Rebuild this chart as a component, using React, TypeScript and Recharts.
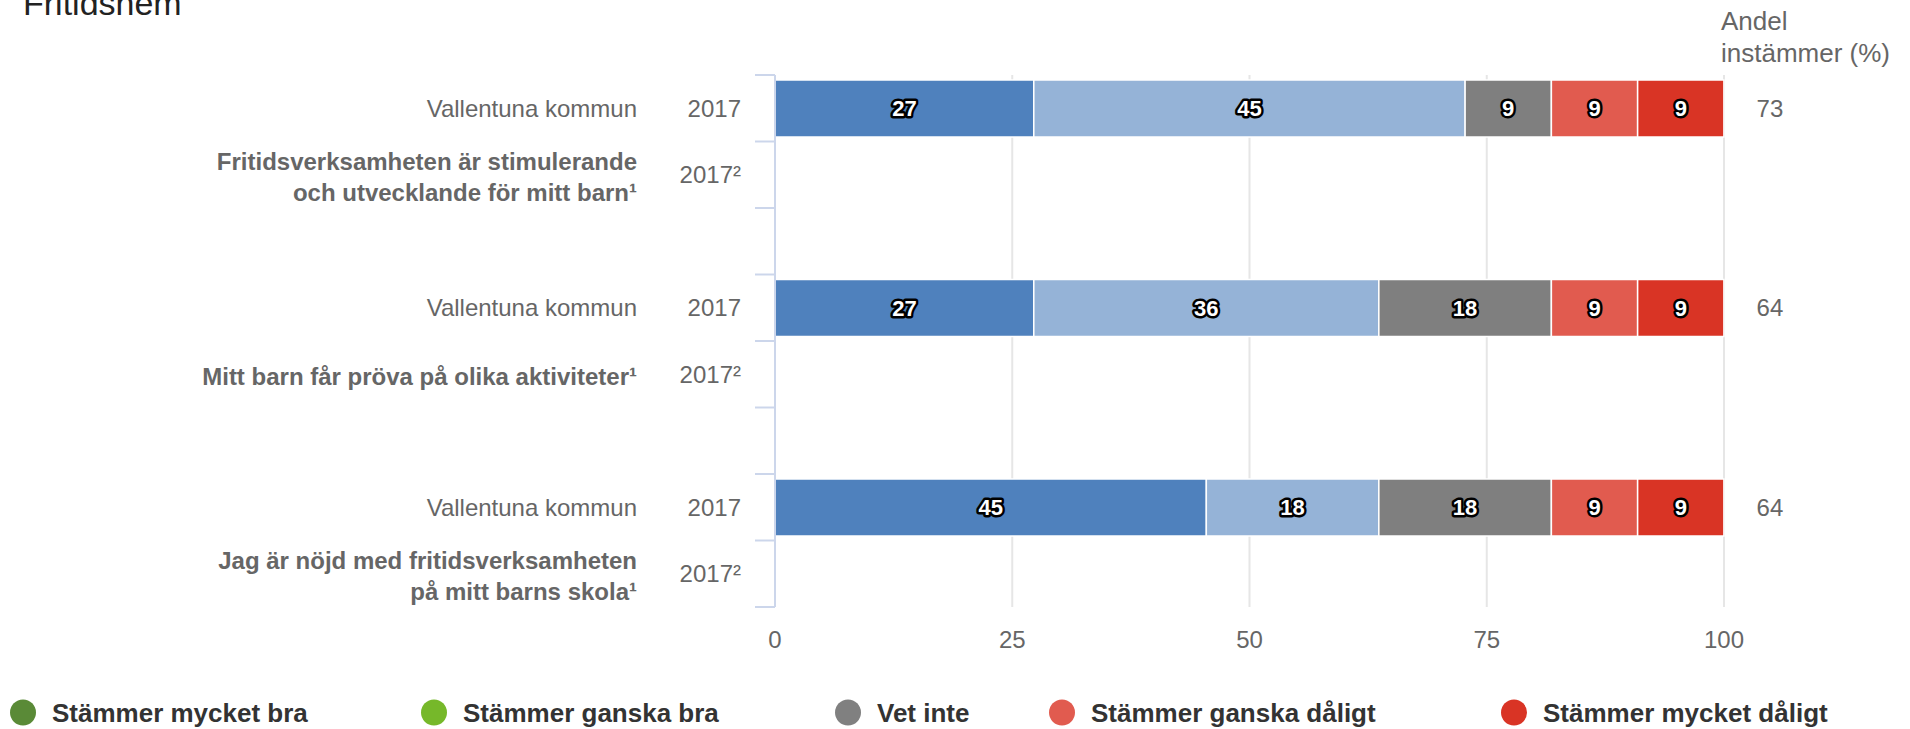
import React from 'react';
import { BarChart, Bar, XAxis, YAxis, CartesianGrid, LabelList } from 'recharts';

// --- data ---
const TITLE = 'Fritidshem';
const ANDEL_TITLE = ['Andel', 'instämmer (%)'];
const UNIT = 'Vallentuna kommun';
const YEAR = '2017';
const PREV_YEAR = '2017²';
const QUESTIONS = [
  ['Fritidsverksamheten är stimulerande', 'och utvecklande för mitt barn¹'],
  ['Mitt barn får pröva på olika aktiviteter¹'],
  ['Jag är nöjd med fritidsverksamheten', 'på mitt barns skola¹'],
];
const SERIES_NAMES = [
  'Stämmer mycket bra',
  'Stämmer ganska bra',
  'Vet inte',
  'Stämmer ganska dåligt',
  'Stämmer mycket dåligt',
];
const MYCKET_BRA = [27.27, 27.27, 45.45];
const GANSKA_BRA = [45.45, 36.36, 18.18];
const VET_INTE = [9.09, 18.18, 18.18];
const GANSKA_DALIGT = [9.09, 9.09, 9.09];
const MYCKET_DALIGT = [9.09, 9.09, 9.09];
const ANDEL = [73, 64, 64];
const X_TICKS = [0, 25, 50, 75, 100];

// --- styling ---
const SERIES_KEYS = ['s0', 's1', 's2', 's3', 's4'];
const BAR_COLORS = ['#4F81BD', '#95B3D7', '#7F7F7F', '#E15B4F', '#D93425'];
const LEGEND_COLORS = ['#5A8A37', '#76B82A', '#808080', '#E15B4F', '#D93425'];
const LEGEND_TEXT_X = [52, 463, 877, 1091, 1543];
const FONT = '"Liberation Sans", Arial, Helvetica, sans-serif';

const W = 1910;
const H = 729;
const MARGIN = { top: 75, right: 186, bottom: 62, left: 0 };
const Y_AXIS_W = 775;
const X_AXIS_H = 60;
const PLOT_BOTTOM = H - MARGIN.bottom - X_AXIS_H;
const LABEL_X = 637;
const YEAR_X = 741;

const seriesValues = [MYCKET_BRA, GANSKA_BRA, VET_INTE, GANSKA_DALIGT, MYCKET_DALIGT];

type Row = { key: string; kind: 'cur' | 'prev' | 'gap'; q: number; [k: string]: any };

const rows: Row[] = [];
QUESTIONS.forEach((_, q) => {
  const cur: Row = { key: `q${q}-cur`, kind: 'cur', q, andel: ANDEL[q] };
  SERIES_KEYS.forEach((k, i) => (cur[k] = seriesValues[i][q]));
  rows.push(cur);
  rows.push({ key: `q${q}-prev`, kind: 'prev', q });
  if (q < QUESTIONS.length - 1) rows.push({ key: `q${q}-gap`, kind: 'gap', q });
});

const BAND = (PLOT_BOTTOM - MARGIN.top) / rows.length;

const YTick = (props: any) => {
  const { y, payload } = props;
  const row = rows.find((r) => r.key === payload.value);
  if (!row || row.kind === 'gap') return null;
  const half = BAND / 2;
  const tick = (ty: number) => (
    <line x1={Y_AXIS_W - 20} x2={Y_AXIS_W} y1={ty} y2={ty} stroke="#ccd6eb" strokeWidth={2} />
  );
  if (row.kind === 'cur') {
    return (
      <g fontFamily={FONT} fontSize={24} fill="#666">
        {tick(y - half)}
        <text x={LABEL_X} y={y} dy="0.35em" textAnchor="end">{UNIT}</text>
        <text x={YEAR_X} y={y} dy="0.35em" textAnchor="end">{YEAR}</text>
      </g>
    );
  }
  const lines = QUESTIONS[row.q];
  const startY = y + 2 - ((lines.length - 1) * 31) / 2;
  return (
    <g fontFamily={FONT} fontSize={24} fill="#666">
      {tick(y - half)}
      {tick(y + half)}
      {lines.map((l, i) => (
        <text key={i} x={LABEL_X} y={startY + i * 31} dy="0.35em" textAnchor="end" fontWeight="bold">{l}</text>
      ))}
      <text x={YEAR_X} y={y} dy="0.35em" textAnchor="end">{PREV_YEAR}</text>
    </g>
  );
};

const XTick = (props: any) => {
  const { x, payload } = props;
  return (
    <text x={x} y={PLOT_BOTTOM + 33} dy="0.35em" textAnchor="middle" fontFamily={FONT} fontSize={24} fill="#666">
      {payload.value}
    </text>
  );
};

const box = (props: any) => {
  const vb = props.viewBox || {};
  return {
    x: Number(vb.x ?? props.x),
    y: Number(vb.y ?? props.y),
    width: Number(vb.width ?? props.width),
    height: Number(vb.height ?? props.height),
  };
};

const renderValue = (props: any) => {
  if (props.value == null) return null;
  const { x, y, width, height } = box(props);
  return (
    <text
      x={x + width / 2}
      y={y + height / 2}
      dy="0.35em"
      textAnchor="middle"
      fontFamily={FONT}
      fontSize={22}
      fontWeight="bold"
      fill="#fff"
      stroke="#000"
      strokeWidth={5}
      strokeLinejoin="round"
      style={{ paintOrder: 'stroke' }}
    >
      {Math.round(Number(props.value))}
    </text>
  );
};

const renderAndel = (props: any) => {
  if (props.value == null) return null;
  const { x, y, width, height } = box(props);
  return (
    <text x={x + width + 46} y={y + height / 2} dy="0.35em" textAnchor="middle" fontFamily={FONT} fontSize={24} fill="#666">
      {props.value}
    </text>
  );
};

export default function App() {
  return (
    <div style={{ position: 'absolute', left: 0, top: 0, width: W, height: H, background: '#fff' }}>
      <BarChart width={W} height={H} data={rows} layout="vertical" margin={MARGIN} barSize={57}>
        <CartesianGrid horizontal={false} stroke="#e6e6e6" strokeWidth={2} />
        <XAxis
          type="number"
          domain={[0, 100]}
          ticks={X_TICKS}
          axisLine={false}
          tickLine={false}
          height={X_AXIS_H}
          tick={(p: any) => <XTick {...p} />}
        />
        <YAxis
          type="category"
          dataKey="key"
          width={Y_AXIS_W}
          interval={0}
          tickLine={false}
          axisLine={{ stroke: '#ccd6eb', strokeWidth: 2 }}
          tick={(p: any) => <YTick {...p} />}
        />
        {SERIES_KEYS.map((k, i) => (
          <Bar
            key={k}
            dataKey={k}
            name={SERIES_NAMES[i]}
            stackId="s"
            fill={BAR_COLORS[i]}
            stroke="#fff"
            strokeWidth={1.5}
            isAnimationActive={false}
          >
            <LabelList dataKey={k} content={renderValue} />
            {i === SERIES_KEYS.length - 1 && <LabelList dataKey="andel" content={renderAndel} />}
          </Bar>
        ))}
      </BarChart>
      <svg width={W} height={H} style={{ position: 'absolute', left: 0, top: 0, pointerEvents: 'none' }}>
        <text x={23} y={15} fontFamily={FONT} fontSize={34} fill="#222">{TITLE}</text>
        {ANDEL_TITLE.map((t, i) => (
          <text key={t} x={1721} y={30 + i * 32} fontFamily={FONT} fontSize={26} fill="#666">{t}</text>
        ))}
        {SERIES_NAMES.map((n, i) => (
          <g key={n}>
            <circle cx={LEGEND_TEXT_X[i] - 29} cy={712.5} r={13} fill={LEGEND_COLORS[i]} />
            <text x={LEGEND_TEXT_X[i]} y={712.5} dy="0.35em" fontFamily={FONT} fontSize={26} fontWeight="bold" fill="#333">{n}</text>
          </g>
        ))}
      </svg>
    </div>
  );
}
